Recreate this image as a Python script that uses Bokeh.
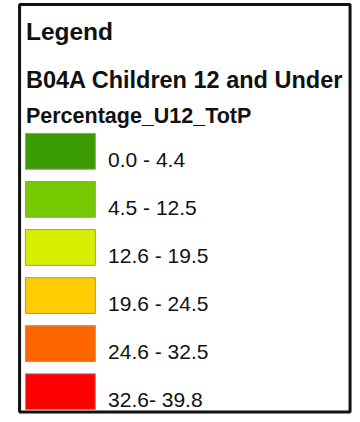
from bokeh.plotting import figure
from bokeh.models import Range1d, ColumnDataSource
from bokeh.core.properties import value
from bokeh.embed import file_html
from bokeh.resources import INLINE

legend_title = "Legend"
layer_name = "B04A Children 12 and Under"
field_name = "Percentage_U12_TotP"
class_labels = ["0.0 - 4.4", "4.5 - 12.5", "12.6 - 19.5", "19.6 - 24.5", "24.6 - 32.5", "32.6- 39.8"]
class_colors = ["#3a9c02", "#76c800", "#d6ef00", "#ffcc00", "#ff6600", "#ff0000"]

FONT = value("Liberation Sans")

# data space mirrors the 360x422 reference; drawn into a 352x414 canvas
p = figure(width=352, height=414, x_range=Range1d(0, 360), y_range=Range1d(422, 0),
           output_backend="svg", toolbar_location=None, min_border=0)
p.axis.visible = False
p.grid.visible = False
p.outline_line_color = None
p.background_fill_color = "white"

# frame
p.quad(left=[19.5], right=[357.5], top=[4], bottom=[419.5], fill_color=None,
       line_color="#111111", line_width=3)

# headings
p.text(x=[26], y=[32], text=[legend_title], text_font=FONT, text_font_style="bold",
       text_font_size="24.5px", text_color="#111111", text_baseline="alphabetic")
p.text(x=[26], y=[81], text=[layer_name], text_font=FONT, text_font_style="bold",
       text_font_size="23.5px", text_color="#111111", text_baseline="alphabetic")
p.text(x=[26], y=[118], text=[field_name], text_font=FONT, text_font_style="bold",
       text_font_size="21.5px", text_color="#111111", text_baseline="alphabetic")

# swatches
n = len(class_labels)
top0, step, h = 135.5, 49, 36.5
tops = [top0 + i * step for i in range(n)]
src = ColumnDataSource(dict(
    left=[25.5] * n, right=[97] * n, top=tops, bottom=[t + h for t in tops],
    color=class_colors, label=class_labels,
    ty=[t + h / 2 + 8 for t in tops], tx=[110] * n,
))
p.quad(left="left", right="right", top="top", bottom="bottom", fill_color="color",
       line_color="#9a9a7a", line_width=1, source=src)
p.text(x="tx", y="ty", text="label", source=src, text_font=FONT, text_font_size="21px",
       text_color="#111111", text_baseline="alphabetic")

open("out.html", "w").write(file_html(p, INLINE))
